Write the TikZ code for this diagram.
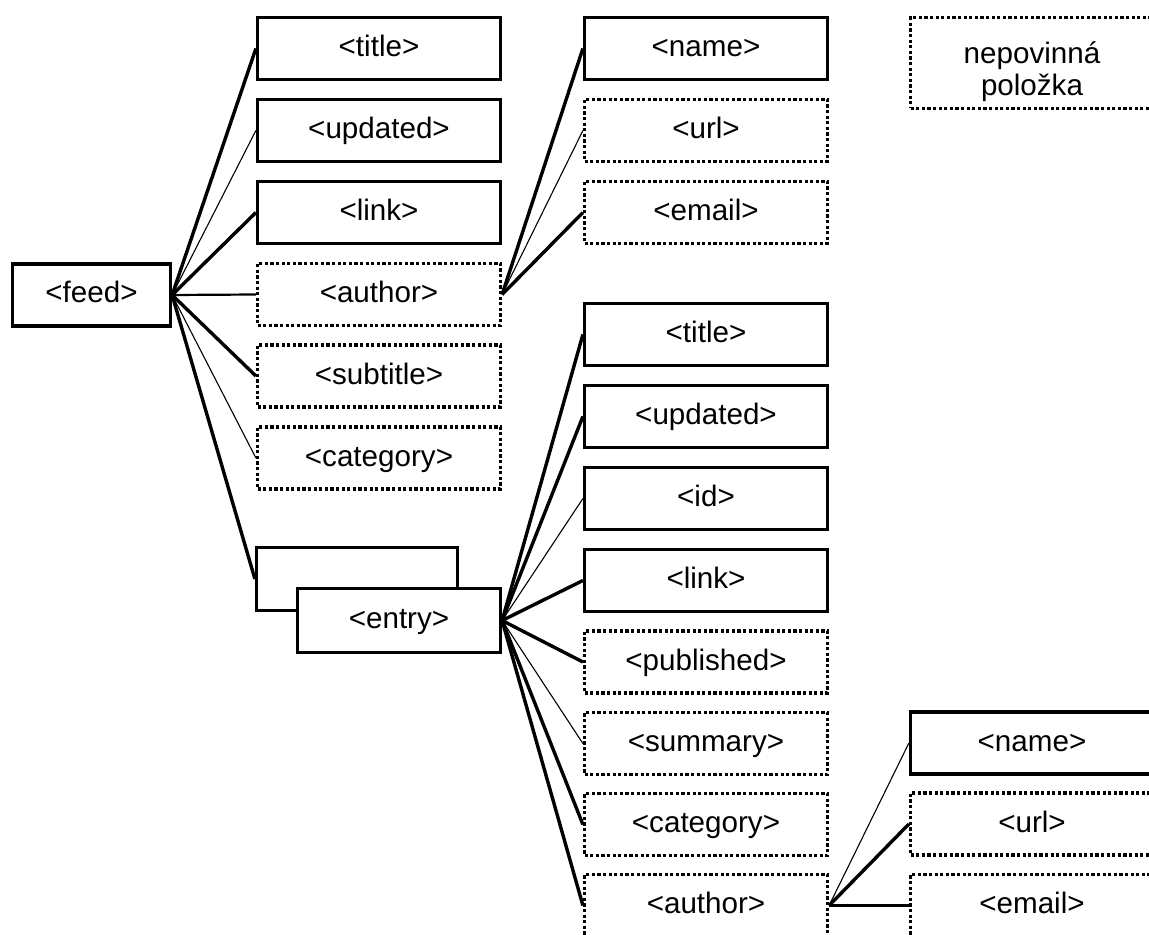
\documentclass[tikz,border=0pt]{standalone}
\usepackage{fontspec}
\setmainfont{Liberation Sans}
\usetikzlibrary{positioning}

\begin{document}
\begin{tikzpicture}[
  x=0.5pt, y=-0.5pt,
  req/.style={draw=black, fill=white, line width=1.6pt, minimum width=121.5pt, minimum height=31pt, inner sep=0pt, text height=0.85em, text depth=0.05em, font=\fontsize{14.8}{16}\selectfont},
  opt/.style={req, dash pattern=on 1.6pt off 1.2pt},
  thk/.style={line width=1.7pt},
  mid/.style={line width=1.1pt},
  thn/.style={line width=0.55pt}
]
\useasboundingbox (0,0) rectangle (1149,935);
\clip (0,0) rectangle (1149,935);

\node[req, minimum width=79pt] (feed) at (91.5,295) {<feed>};

\node[req] (Ftitle) at (379,48.5) {<title>};
\node[req] (Fupd) at (379,130.5) {<updated>};
\node[req] (Flink) at (379,212.5) {<link>};
\node[opt] (Fauth) at (379,294.5) {<author>};
\node[opt] (Fsub) at (379,376) {<subtitle>};
\node[opt] (Fcat) at (379,458) {<category>};

\node[req] (Aname) at (706,48.5) {<name>};
\node[opt] (Aurl) at (706,130.5) {<url>};
\node[opt] (Amail) at (706,212.5) {<email>};

\node[opt, minimum height=45.5pt, text height=36pt, text depth=3pt, align=center] (legend) at (1032,63) {nepovinná\\položka};

\node[req, minimum width=100.5pt, minimum height=31.5pt] (Eback) at (357,579) {};
\node[req, minimum width=101.5pt, minimum height=32pt] (entry) at (399,620.5) {<entry>};

\node[req] (Etitle) at (706,334.5) {<title>};
\node[req] (Eupd) at (706,416.5) {<updated>};
\node[req] (Eid) at (706,498.5) {<id>};
\node[req] (Elink) at (706,580.5) {<link>};
\node[opt] (Epub) at (706,662) {<published>};
\node[opt] (Esum) at (706,743.5) {<summary>};
\node[opt] (Ecat) at (706,824.5) {<category>};
\node[opt] (Eauth) at (706,905.5) {<author>};

\node[req] (Bname) at (1032,743) {<name>};
\node[opt] (Burl) at (1032,824) {<url>};
\node[opt] (Bmail) at (1032,905.5) {<email>};

\draw[thk] (feed.east) -- (Ftitle.west);
\draw[thn] (feed.east) -- (Fupd.west);
\draw[thk] (feed.east) -- (Flink.west);
\draw[mid] (feed.east) -- (Fauth.west);
\draw[thk] (feed.east) -- (Fsub.west);
\draw[thn] (feed.east) -- (Fcat.west);
\draw[thk] (feed.east) -- (Eback.west);

\draw[thk] (Fauth.east) -- (Aname.west);
\draw[thn] (Fauth.east) -- (Aurl.west);
\draw[thk] (Fauth.east) -- (Amail.west);

\draw[thk] (entry.east) -- (Etitle.west);
\draw[thk] (entry.east) -- (Eupd.west);
\draw[thn] (entry.east) -- (Eid.west);
\draw[thk] (entry.east) -- (Elink.west);
\draw[thk] (entry.east) -- (Epub.west);
\draw[thn] (entry.east) -- (Esum.west);
\draw[thk] (entry.east) -- (Ecat.west);
\draw[thk] (entry.east) -- (Eauth.west);

\draw[thn] (Eauth.east) -- (Bname.west);
\draw[thk] (Eauth.east) -- (Burl.west);
\draw[mid] (Eauth.east) -- (Bmail.west);

\end{tikzpicture}
\end{document}
